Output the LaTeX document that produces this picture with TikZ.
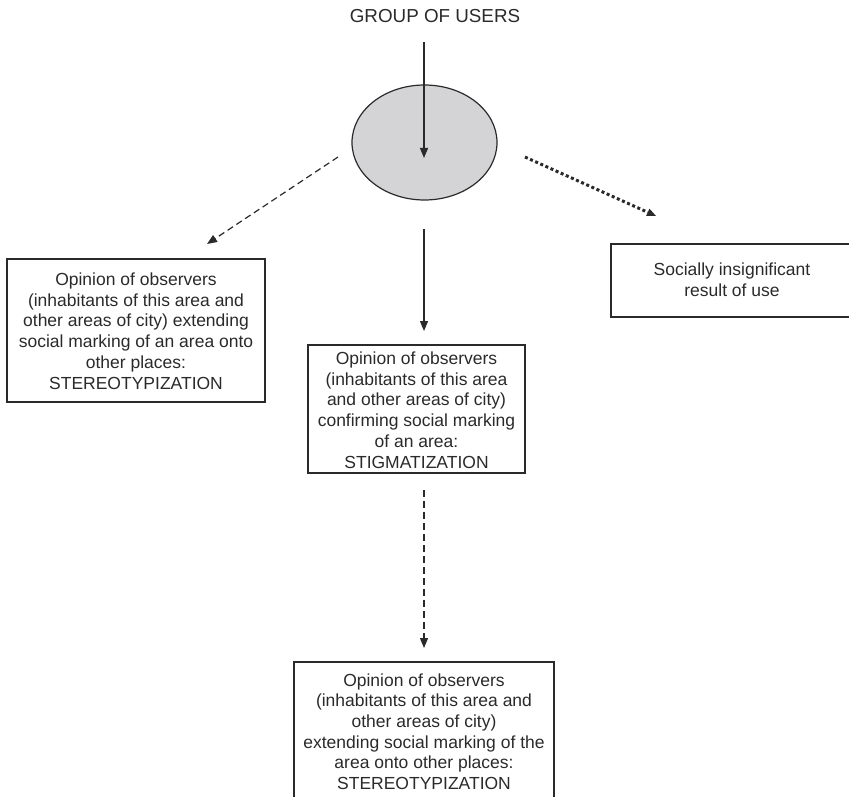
\documentclass[tikz,border=0pt]{standalone}
\usepackage{fontspec}
\setmainfont{Liberation Sans}
\usetikzlibrary{arrows.meta,shapes.geometric}
\definecolor{inkc}{HTML}{2A2A2A}
\definecolor{ellfill}{HTML}{D4D4D6}
\tikzset{
  txt/.style={font=\fontsize{17.5}{20.7}\selectfont, text=inkc, align=center, inner sep=0pt},
  boxn/.style={draw=inkc, line width=1.2pt, inner sep=0pt},
  conn/.style={draw=inkc, line width=1.2pt, -{Triangle[length=10pt,width=8pt]}},
  dashconn/.style={conn, dash pattern=on 6.5pt off 4pt},
  dotconn/.style={draw=inkc, line width=3pt, dash pattern=on 3pt off 2.6pt, -{Triangle[length=9pt,width=8pt,line width=0pt]}},
}
\begin{document}
\begin{tikzpicture}[x=1pt, y=-1pt]
\useasboundingbox (0,0) rectangle (849,797);
\clip (0,0) rectangle (849,797);

% title and ellipse
\node[txt, font=\fontsize{18.8}{22}\selectfont] (title) at (435,16.5) {GROUP OF USERS};
\node[draw=inkc, line width=1.2pt, fill=ellfill, ellipse, minimum width=145pt, minimum height=115pt, inner sep=0pt] (grp) at (424.5,142.5) {};

% boxes
\node[boxn, minimum width=258pt, minimum height=143pt] (lbox) at (136,330.5) {};
\node[txt] (ltext) at (136,331) {Opinion of observers\\(inhabitants of this area and\\other areas of city) extending\\social marking of an area onto\\other places:\\STEREOTYPIZATION};

\node[boxn, minimum width=217pt, minimum height=128pt] (mbox) at (416.5,409) {};
\node[txt] (mtext) at (416.5,410) {Opinion of observers\\(inhabitants of this area\\and other areas of city)\\confirming social marking\\of an area:\\STIGMATIZATION};

\node[boxn, minimum width=242pt, minimum height=73pt] (rbox) at (732,280.5) {};
\node[txt] (rtext) at (732,280) {Socially insignificant\\result of use};

\node[boxn, minimum width=260pt, minimum height=150pt] (bbox) at (424,737) {};
\node[txt] (btext) at (424,731.5) {Opinion of observers\\(inhabitants of this area and\\other areas of city)\\extending social marking of the\\area onto other places:\\STEREOTYPIZATION};

% connector end points
\coordinate (t0) at (424,42);
\coordinate (t1) at (424,158);
\coordinate (l0) at (338,157);
\coordinate (l1) at (207,244);
\coordinate (r0) at (525,157);
\coordinate (r1) at (656,216);
\coordinate (m0) at (424,229);
\coordinate (m1) at (424,331);
\coordinate (b0) at (424,490);
\coordinate (b1) at (424,648);

\draw[conn] (t0) -- (t1);
\draw[dashconn] (l0) -- (l1);
\draw[dotconn] (r0) -- (r1);
\draw[conn] (m0) -- (m1);
\draw[dashconn, dash pattern=on 7pt off 4pt] (b0) -- (b1);
\end{tikzpicture}
\end{document}
